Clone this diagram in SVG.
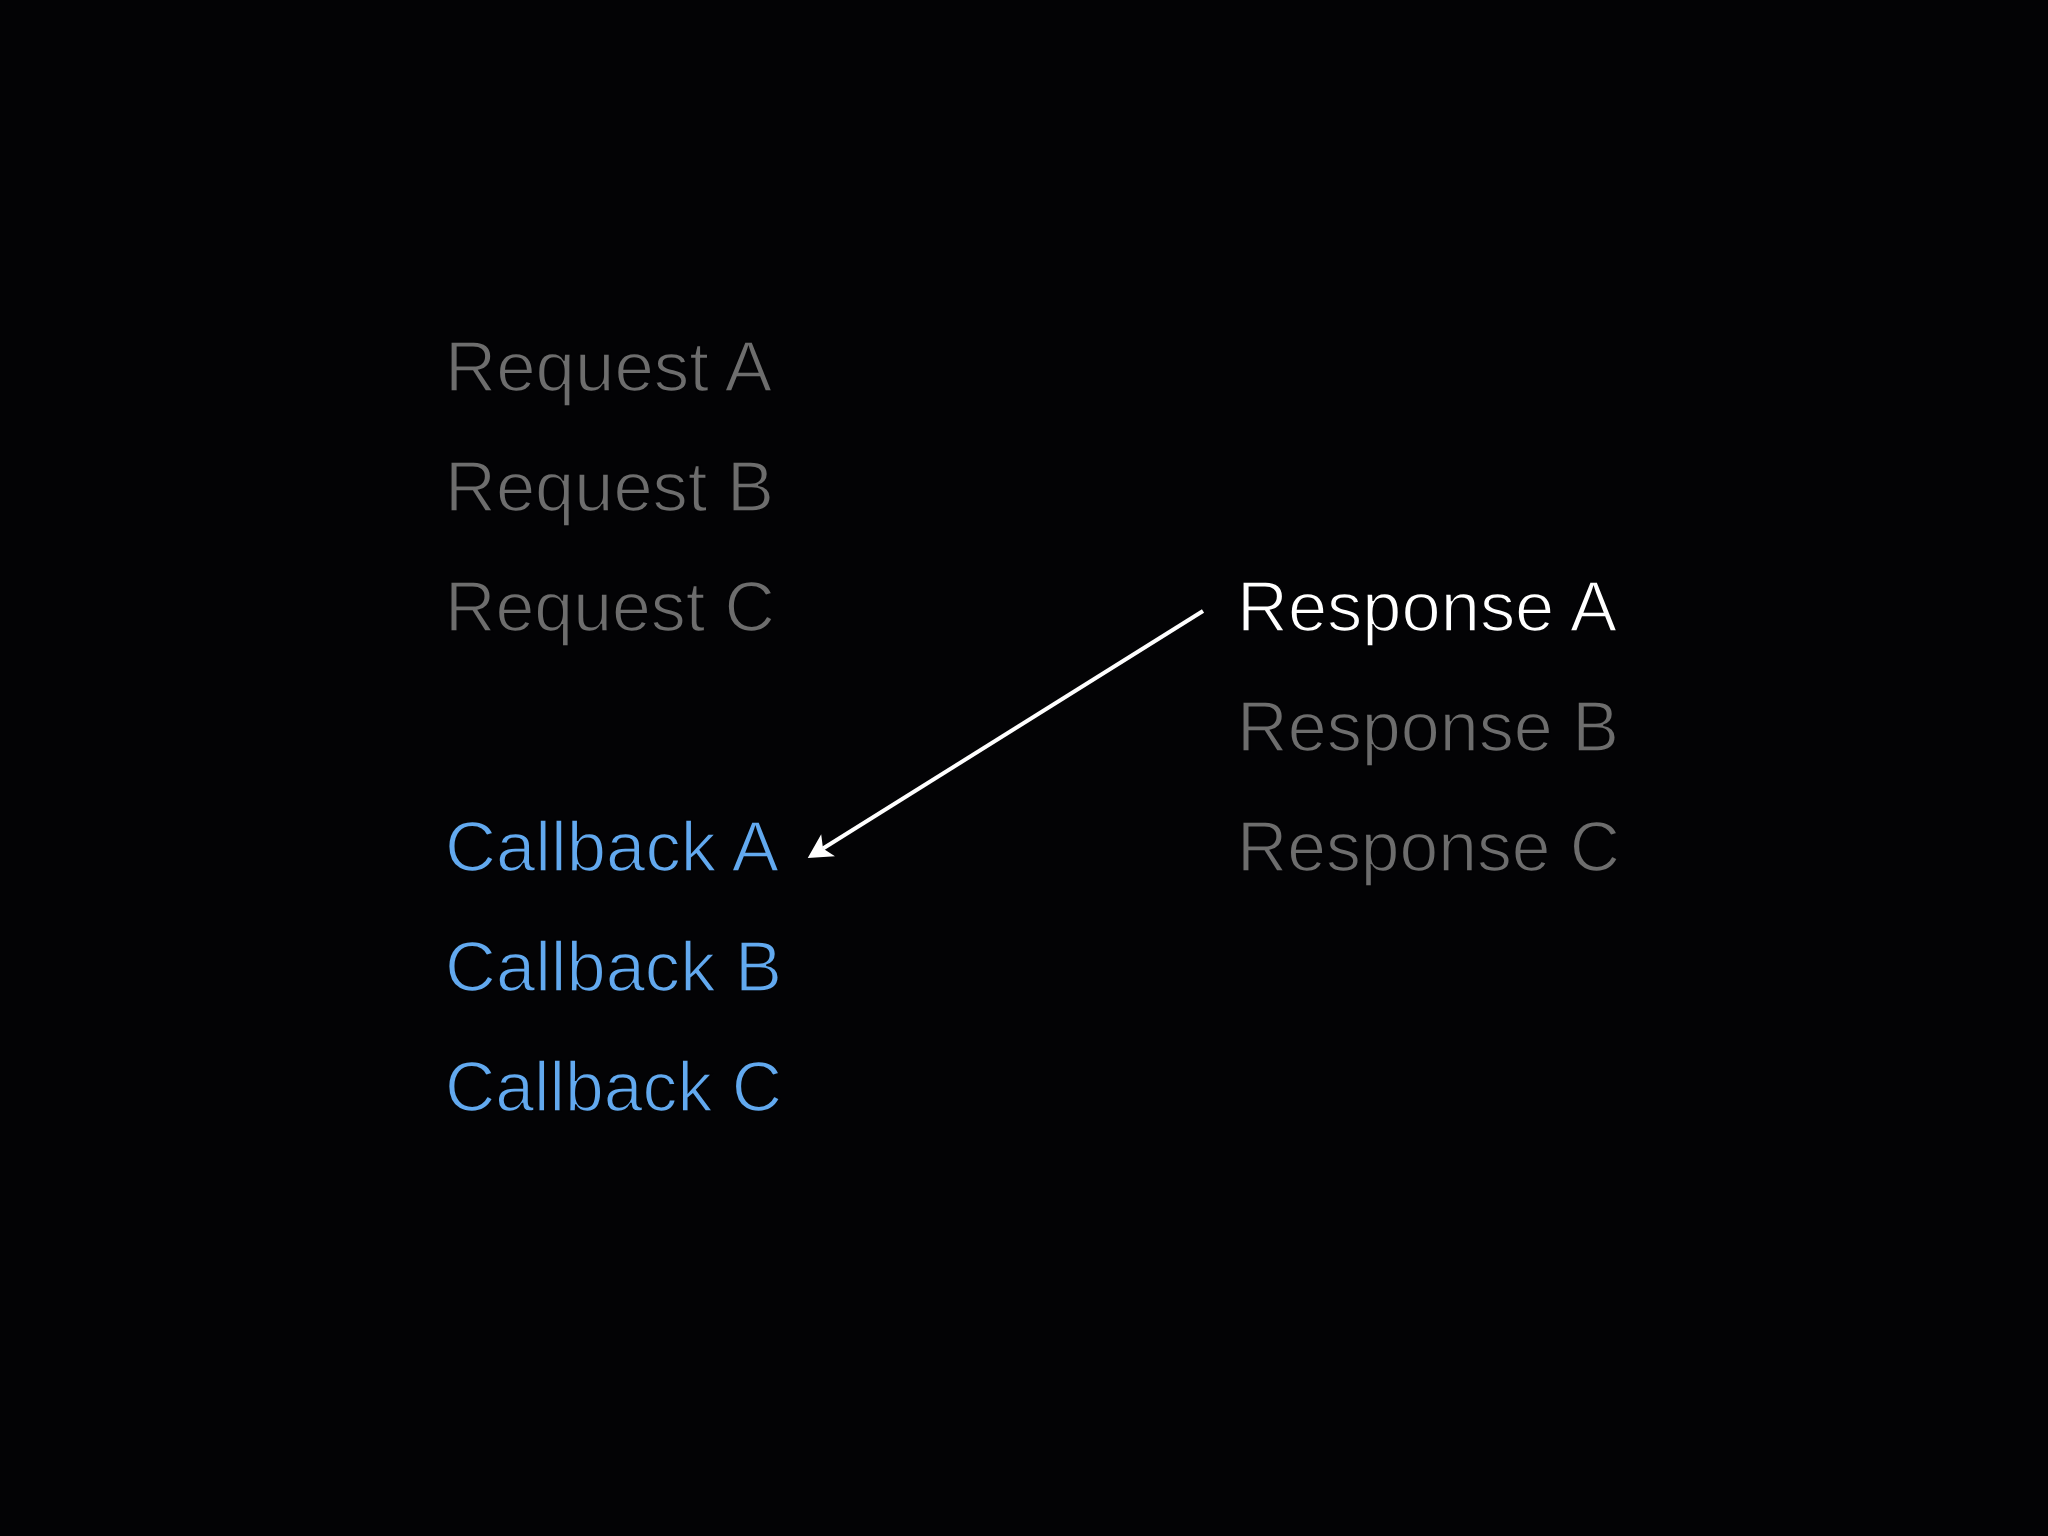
<svg xmlns="http://www.w3.org/2000/svg" width="2048" height="1536" viewBox="0 0 2048 1536">
  <style>
    .t { font-family: "Liberation Sans", Arial, Helvetica, sans-serif; font-size: 71px; stroke: #030305; stroke-width: 1.6px; paint-order: fill stroke; }
    .gray { fill: #6d6d6d; }
    .white { fill: #ffffff; }
    .blue { fill: #62a9ef; }
    .conn { stroke: #ffffff; stroke-width: 4; fill: none; }
  </style>
  <defs>
    <marker id="arrow" markerUnits="userSpaceOnUse" viewBox="-10 -16 32 32" markerWidth="32" markerHeight="32" refX="0" refY="0" orient="auto">
      <path d="M18,0 L-6,-13 L0,0 L-6,13 Z" fill="#ffffff"/>
    </marker>
  </defs>
  <rect x="0" y="0" width="2048" height="1536" fill="#030305"/>
  <g id="request-a"><text class="t gray" x="445" y="391" textLength="327" lengthAdjust="spacingAndGlyphs">Request A</text></g>
  <g id="request-b"><text class="t gray" x="445" y="511" textLength="329" lengthAdjust="spacingAndGlyphs">Request B</text></g>
  <g id="request-c"><text class="t gray" x="445" y="631" textLength="330" lengthAdjust="spacingAndGlyphs">Request C</text></g>
  <g id="response-a"><text class="t white" x="1237" y="631" textLength="380" lengthAdjust="spacingAndGlyphs">Response A</text></g>
  <g id="response-b"><text class="t gray" x="1237" y="751" textLength="382" lengthAdjust="spacingAndGlyphs">Response B</text></g>
  <g id="response-c"><text class="t gray" x="1237" y="871" textLength="383" lengthAdjust="spacingAndGlyphs">Response C</text></g>
  <g id="callback-a"><text class="t blue" x="445" y="871" textLength="334" lengthAdjust="spacingAndGlyphs">Callback A</text></g>
  <g id="callback-b"><text class="t blue" x="445" y="991" textLength="337" lengthAdjust="spacingAndGlyphs">Callback B</text></g>
  <g id="callback-c"><text class="t blue" x="445" y="1111" textLength="337" lengthAdjust="spacingAndGlyphs">Callback C</text></g>
  <g id="connectors">
    <line class="conn" x1="1203" y1="611" x2="823" y2="848.5" marker-end="url(#arrow)"/>
  </g>
</svg>
